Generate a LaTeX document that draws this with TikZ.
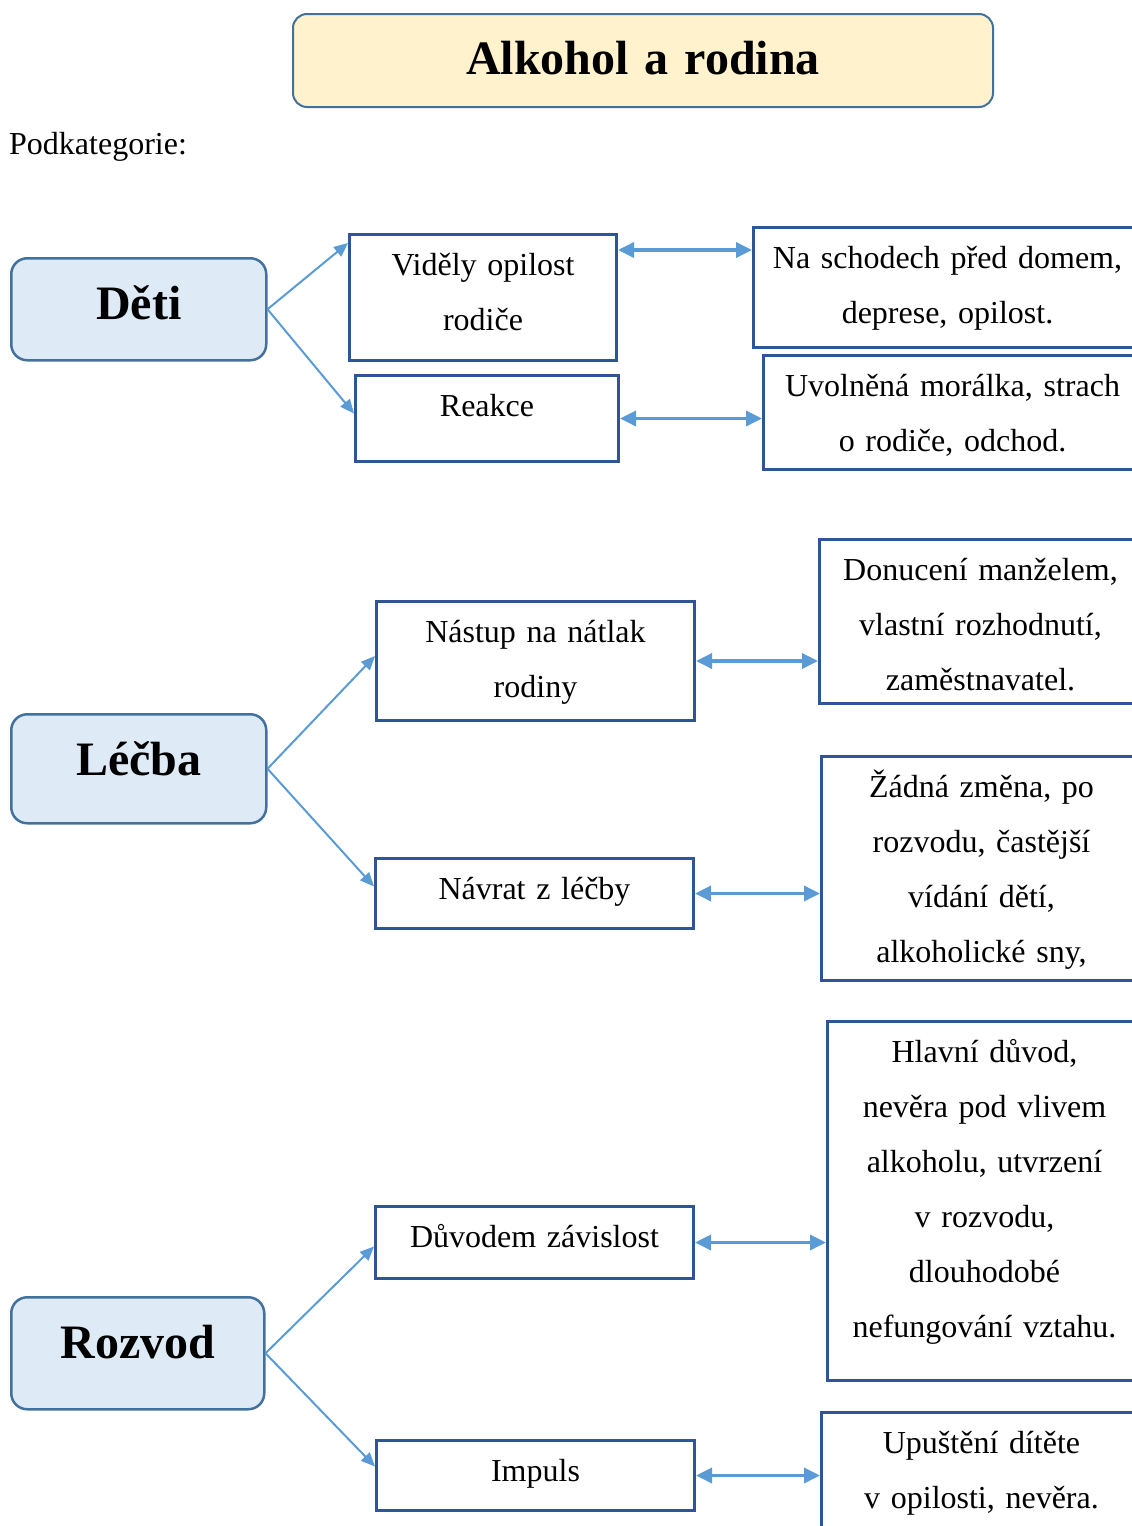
\documentclass[tikz,border=0pt]{standalone}
\usepackage{fontspec}
\setmainfont{Liberation Serif}
\usetikzlibrary{positioning,arrows.meta,calc}
\definecolor{cline}{HTML}{5B9BD5}
\definecolor{cedge}{HTML}{2F5597}
\definecolor{cround}{HTML}{41719C}
\definecolor{ctitle}{HTML}{FFF2CC}
\definecolor{chead}{HTML}{DEEBF7}
\tikzset{
  ttl/.style={rectangle, rounded corners=14pt, draw=cround, fill=ctitle, line width=2pt,
              anchor=north west, inner sep=0pt, align=center,
              font=\bfseries\fontsize{48}{55}\selectfont, text height=60pt},
  head/.style={rectangle, rounded corners=16pt, draw=cround, fill=chead, line width=2.5pt,
               anchor=north west, inner sep=0pt, align=center,
               font=\bfseries\fontsize{48}{55}\selectfont, text height=61pt},
  item/.style={rectangle, draw=cedge, line width=3pt, anchor=north west, inner sep=0pt,
               align=center, font=\fontsize{32}{55}\selectfont, text height=41pt},
  link/.style={-{Triangle[length=14pt,width=12pt]}, line width=2pt, draw=cline},
  both/.style={{Triangle[length=16pt,width=15pt]}-{Triangle[length=16pt,width=15pt]},
               line width=3.5pt, draw=cline}
}
\begin{document}
\begin{tikzpicture}[x=1pt, y=-1pt]
\useasboundingbox (0,0) rectangle (1132,1526);
\clip (0,0) rectangle (1132,1526);
% title
\node[ttl, text width=700pt, text depth=33pt] (title) at (292,13) {Alkohol a rodina};
\node[anchor=base west, inner sep=0pt, font=\fontsize{32}{55}\selectfont] (sub) at (9,154) {Podkategorie:};
% categories
\node[head, text width=255pt, text depth=41pt] (deti) at (10,257) {Děti};
\node[head, text width=255pt, text depth=48pt] (lecba) at (10,713) {Léčba};
\node[head, text width=253pt, text depth=51pt] (rozvod) at (10,1296) {Rozvod};
% subcategories
\node[item, text width=267pt, text depth=85pt] (vid) at (348,233) {Viděly opilost\\rodiče};
\node[item, text width=263pt, text depth=45pt] (rea) at (354,374) {Reakce};
\node[item, text width=318pt, text depth=78pt] (nas) at (375,600) {Nástup na nátlak\\rodiny};
\node[item, text width=318pt, text depth=29pt] (nav) at (374,857) {Návrat z léčby};
\node[item, text width=318pt, text depth=31pt] (duv) at (374,1205) {Důvodem závislost};
\node[item, text width=318pt, text depth=29pt] (imp) at (375,1439) {Impuls};
% details
\node[item, text width=388pt, text depth=79pt] (na) at (752,226) {Na schodech před domem,\\deprese, opilost.};
\node[item, text width=378pt, text depth=73pt] (uvo) at (762,354) {Uvolněná morálka, strach\\o rodiče, odchod.};
\node[item, text width=322pt, text depth=123pt] (don) at (818,538) {Donucení manželem,\\vlastní rozhodnutí,\\zaměstnavatel.};
\node[item, text width=320pt, text depth=183pt] (zad) at (820,755) {Žádná změna, po\\rozvodu, častější\\vídání dětí,\\alkoholické sny,};
\node[item, text width=314pt, text depth=318pt] (hla) at (826,1020) {Hlavní důvod,\\nevěra pod vlivem\\alkoholu, utvrzení\\v rozvodu,\\dlouhodobé\\nefungování vztahu.};
\node[item, text width=320pt, text depth=99pt] (upu) at (820,1411) {Upuštění dítěte\\v opilosti, nevěra.};
% arrows
\draw[link] (deti.east) -- ($(vid.north west)+(0,10)$);
\draw[link] (deti.east) -- ($(rea.west)+(0,-5)$);
\draw[link] (lecba.east) -- ($(nas.west)+(0,-5)$);
\draw[link] (lecba.east) -- ($(nav.west)+(0,-7)$);
\draw[link] (rozvod.east) -- ($(duv.west)+(0,4)$);
\draw[link] (rozvod.east) -- ($(imp.west)+(0,-9)$);
\coordinate (vn) at ($(vid.north east)+(0,17)$);
\draw[both] (vn) -- (vn -| na.west);
\draw[both] (rea.east) -- (rea.east -| uvo.west);
\draw[both] (nas.east) -- (nas.east -| don.west);
\draw[both] (nav.east) -- (nav.east -| zad.west);
\draw[both] (duv.east) -- (duv.east -| hla.west);
\draw[both] (imp.east) -- (imp.east -| upu.west);
\end{tikzpicture}
\end{document}
